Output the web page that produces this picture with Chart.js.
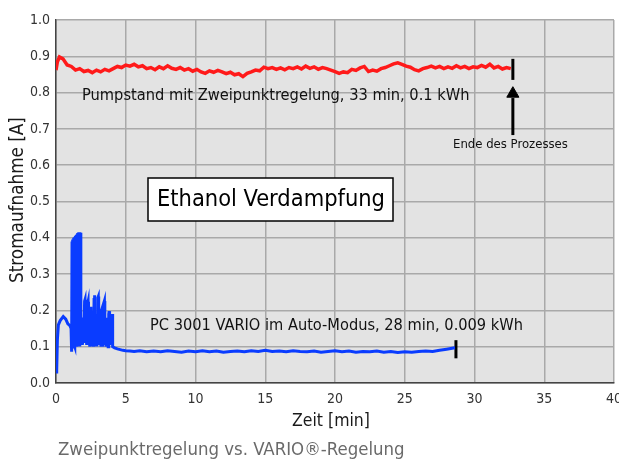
<!DOCTYPE html>
<html>
<head>
<meta charset="utf-8">
<script src="https://cdn.jsdelivr.net/npm/chart.js@4/dist/chart.umd.min.js"></script>
<style>
  html, body { margin: 0; padding: 0; background: #ffffff; }
  #wrap { width: 619px; height: 461px; }
</style>
</head>
<body>
<div id="wrap"><canvas id="myChart" width="619" height="461"></canvas></div>
<script>
// Pumpstand (Zweipunktregelung), Zeit [min] / Strom [A]
const redTime = [0, 0.1, 0.25, 0.5, 0.8, 1.1, 1.4, 1.7, 2.0, 2.3, 2.6, 2.9, 3.2, 3.5, 3.8, 4.1, 4.4, 4.7, 5.0, 5.3,
  5.6, 5.9, 6.2, 6.5, 6.8, 7.1, 7.4, 7.7, 8.0, 8.3, 8.6, 8.9, 9.2, 9.5, 9.8, 10.1, 10.4, 10.7, 11.0, 11.3,
  11.6, 11.9, 12.2, 12.5, 12.8, 13.1, 13.4, 13.7, 14.0, 14.3, 14.6, 14.9, 15.2, 15.5, 15.8, 16.1, 16.4, 16.7, 17.0, 17.3,
  17.6, 17.9, 18.2, 18.5, 18.8, 19.1, 19.4, 19.7, 20.0, 20.3, 20.6, 20.9, 21.2, 21.5, 21.8, 22.1, 22.4, 22.7, 23.0, 23.3,
  23.6, 23.9, 24.2, 24.5, 24.8, 25.1, 25.4, 25.7, 26.0, 26.3, 26.6, 26.9, 27.2, 27.5, 27.8, 28.1, 28.4, 28.7, 29.0, 29.3,
  29.6, 29.9, 30.2, 30.5, 30.8, 31.1, 31.4, 31.7, 32.0, 32.3, 32.6]
const redCurrent = [0.862, 0.885, 0.898, 0.893, 0.876, 0.872, 0.862, 0.866, 0.858, 0.861, 0.855, 0.862, 0.857, 0.864, 0.860, 0.866, 0.872, 0.869, 0.876, 0.873,
  0.878, 0.871, 0.874, 0.866, 0.869, 0.863, 0.871, 0.866, 0.874, 0.867, 0.864, 0.869, 0.862, 0.866, 0.859, 0.864, 0.857, 0.853, 0.860, 0.856,
  0.861, 0.857, 0.852, 0.856, 0.849, 0.852, 0.844, 0.853, 0.857, 0.862, 0.860, 0.870, 0.866, 0.869, 0.864, 0.868, 0.863, 0.869, 0.866, 0.871,
  0.865, 0.873, 0.867, 0.871, 0.864, 0.869, 0.866, 0.862, 0.858, 0.853, 0.857, 0.855, 0.864, 0.861, 0.868, 0.872, 0.858, 0.862, 0.859, 0.866,
  0.869, 0.874, 0.879, 0.882, 0.878, 0.873, 0.870, 0.863, 0.860, 0.866, 0.869, 0.873, 0.868, 0.872, 0.866, 0.871, 0.867, 0.874, 0.868, 0.872,
  0.866, 0.871, 0.869, 0.875, 0.870, 0.878, 0.868, 0.872, 0.865, 0.869, 0.866]

// PC 3001 VARIO im Auto-Modus
const blueTime = [0, 0.05, 0.1, 0.17, 0.3, 0.52, 0.7, 0.85, 1.0, 1.08,
  1.12, 1.15, 1.18, 1.21, 1.24, 1.27, 1.30, 1.33, 1.36, 1.39, 1.42, 1.45, 1.48, 1.51, 1.54, 1.57, 1.60, 1.63, 1.66, 1.69, 1.72, 1.75, 1.78,
  1.80, 1.85, 1.90, 1.95, 2.00, 2.05, 2.08, 2.11, 2.15, 2.20, 2.25, 2.30, 2.33, 2.38, 2.42, 2.46, 2.50, 2.53, 2.57, 2.61,
  2.65, 2.69, 2.73, 2.77, 2.80, 2.84, 2.88, 2.93, 2.97, 3.00, 3.03, 3.06, 3.10, 3.14, 3.18, 3.22, 3.26, 3.30, 3.33, 3.37,
  3.41, 3.44, 3.47, 3.50, 3.54, 3.58, 3.62, 3.66, 3.70, 3.74, 3.78, 3.81, 3.84, 3.88, 3.92, 3.96, 4.00, 4.03, 4.06,
  4.2, 4.4, 4.6, 4.8, 5.0, 5.3, 5.6, 6.0, 6.5, 7.0, 7.5, 8.0, 8.5, 9.0, 9.5, 10.0, 10.5,
  11.0, 11.5, 12.0, 12.5, 13.0, 13.5, 14.0, 14.5, 15.0, 15.5, 16.0, 16.5, 17.0, 17.5, 18.0, 18.5, 19.0, 19.5, 20.0, 20.5,
  21.0, 21.5, 22.0, 22.5, 23.0, 23.5, 24.0, 24.5, 25.0, 25.5, 26.0, 26.5, 27.0, 27.5, 28.0, 28.3, 28.6]
const blueCurrent = [0.030, 0.036, 0.120, 0.160, 0.172, 0.183, 0.176, 0.163, 0.158, 0.150,
  0.086, 0.390, 0.095, 0.395, 0.100, 0.400, 0.105, 0.402, 0.100, 0.405, 0.105, 0.408, 0.100, 0.410, 0.105, 0.413, 0.110, 0.415, 0.105, 0.415, 0.110, 0.414, 0.120,
  0.120, 0.160, 0.105, 0.180, 0.110, 0.225, 0.229, 0.110, 0.170, 0.105, 0.215, 0.224, 0.110, 0.160, 0.100, 0.190, 0.210, 0.110, 0.170, 0.105,
  0.185, 0.100, 0.230, 0.242, 0.110, 0.165, 0.105, 0.190, 0.110, 0.235, 0.238, 0.110, 0.175, 0.105, 0.165, 0.100, 0.200, 0.205, 0.100, 0.150,
  0.105, 0.220, 0.226, 0.105, 0.165, 0.100, 0.180, 0.105, 0.155, 0.100, 0.190, 0.198, 0.105, 0.170, 0.110, 0.180, 0.115, 0.190, 0.100,
  0.097, 0.094, 0.092, 0.090, 0.089, 0.088, 0.087, 0.089, 0.086, 0.088, 0.086, 0.089, 0.087, 0.085, 0.088, 0.086, 0.089,
  0.086, 0.088, 0.085, 0.087, 0.088, 0.086, 0.089, 0.087, 0.090, 0.087, 0.088, 0.086, 0.089, 0.087, 0.086, 0.088, 0.085, 0.087, 0.089, 0.086,
  0.088, 0.085, 0.087, 0.086, 0.088, 0.085, 0.087, 0.084, 0.086, 0.085, 0.087, 0.088, 0.087, 0.090, 0.093, 0.095, 0.097]

// Ende-Markierungen (Zeit, von, bis)
const redEnd = [32.75, 0.835, 0.893]
const blueEnd = [28.67, 0.068, 0.118]
const arrowLine = [32.75, 0.683, 0.785]
const arrowTip = [32.75, 0.797]

const xTicks = [0, 5, 10, 15, 20, 25, 30, 35, 40]
const yTicks = [0.0, 0.1, 0.2, 0.3, 0.4, 0.5, 0.6, 0.7, 0.8, 0.9, 1.0]

const FONT = '"DejaVu Sans Condensed", "Liberation Sans Narrow", "DejaVu Sans", sans-serif'

function pts(xs, ys) {
  return xs.map((x, i) => ({ x: x, y: ys[i] }))
}

// Text with a fixed target width
function fitText(ctx, text, x, y, width, size, align) {
  ctx.font = size + 'px ' + FONT
  const w = ctx.measureText(text).width
  const s = size * width / w
  ctx.font = s.toFixed(2) + 'px ' + FONT
  ctx.textAlign = align || 'left'
  ctx.fillText(text, x, y)
}

const plotBg = {
  id: 'plotBg',
  beforeDraw(chart) {
    const a = chart.chartArea
    const ctx = chart.ctx
    ctx.save()
    ctx.fillStyle = '#e3e3e3'
    ctx.fillRect(a.left, a.top, a.right - a.left, a.bottom - a.top)
    ctx.restore()
  }
}

const labels = {
  id: 'labels',
  afterDatasetsDraw(chart) {
    const ctx = chart.ctx
    ctx.save()
    ctx.textBaseline = 'middle'
    ctx.fillStyle = '#111111'

    fitText(ctx, 'Pumpstand mit Zweipunktregelung, 33 min, 0.1 kWh', 82, 96, 388, 15)
    fitText(ctx, 'PC 3001 VARIO im Auto-Modus, 28 min, 0.009 kWh', 150, 326, 373, 15)
    fitText(ctx, 'Ende des Prozesses', 453, 145, 115, 12)

    // Titelbox
    ctx.fillStyle = '#ffffff'
    ctx.fillRect(148, 178, 245, 43)
    ctx.strokeStyle = '#000000'
    ctx.lineWidth = 1.5
    ctx.strokeRect(148, 178, 245, 43)
    ctx.fillStyle = '#000000'
    fitText(ctx, 'Ethanol Verdampfung', 157, 200, 228, 25)

    // Achsentitel
    ctx.fillStyle = '#1a1a1a'
    fitText(ctx, 'Zeit [min]', 331, 421, 78, 18, 'center')
    ctx.save()
    ctx.translate(18, 200)
    ctx.rotate(-Math.PI / 2)
    fitText(ctx, 'Stromaufnahme [A]', 0, 0, 166, 18, 'center')
    ctx.restore()

    ctx.fillStyle = '#6a6a6a'
    fitText(ctx, 'Zweipunktregelung vs. VARIO\u00ae-Regelung', 58, 450, 347, 18)
    ctx.restore()
  }
}

const ctx = document.getElementById('myChart')

const myChart = new Chart(ctx, {
  type: 'line',
  data: {
    datasets: [
      {
        data: pts(redTime, redCurrent),
        borderColor: '#ff1a1a',
        borderWidth: 3.5,
        pointRadius: 0,
        tension: 0
      },
      {
        data: pts(blueTime, blueCurrent),
        borderColor: '#0a3cff',
        borderWidth: 3,
        pointRadius: 0,
        tension: 0
      },
      {
        data: [{ x: redEnd[0], y: redEnd[1] }, { x: redEnd[0], y: redEnd[2] }],
        borderColor: '#000000',
        borderWidth: 3,
        pointRadius: 0
      },
      {
        data: [{ x: blueEnd[0], y: blueEnd[1] }, { x: blueEnd[0], y: blueEnd[2] }],
        borderColor: '#000000',
        borderWidth: 3,
        pointRadius: 0
      },
      {
        data: [{ x: arrowLine[0], y: arrowLine[1] }, { x: arrowLine[0], y: arrowLine[2] }],
        borderColor: '#000000',
        borderWidth: 3,
        pointRadius: 0
      },
      {
        type: 'scatter',
        data: [{ x: arrowTip[0], y: arrowTip[1] }],
        pointStyle: 'triangle',
        pointRadius: 7,
        backgroundColor: '#000000',
        borderColor: '#000000',
        borderWidth: 1
      }
    ]
  },
  options: {
    responsive: false,
    animation: false,
    layout: { autoPadding: false, padding: { top: 20, right: 5, left: 0, bottom: 0 } },
    plugins: {
      legend: { display: false },
      tooltip: { enabled: false }
    },
    scales: {
      x: {
        type: 'linear',
        min: 0,
        max: 40,
        afterBuildTicks(scale) {
          scale.ticks = xTicks.map(v => ({ value: v }))
        },
        afterFit(scale) {
          scale.height = 78
          scale.paddingLeft = 0
          scale.paddingRight = 0
        },
        grid: { color: '#a9a9a9', lineWidth: 1.5, drawTicks: false },
        border: { color: '#444444', width: 1.5 },
        ticks: {
          padding: 8,
          color: '#333333',
          font: { family: FONT, size: 14 },
          maxRotation: 0
        }
      },
      y: {
        min: 0,
        max: 1,
        afterBuildTicks(scale) {
          scale.ticks = yTicks.map(v => ({ value: v }))
        },
        afterFit(scale) {
          scale.width = 56
          scale.paddingTop = 0
          scale.paddingBottom = 0
        },
        grid: { color: '#a9a9a9', lineWidth: 1.5, drawTicks: false },
        border: { color: '#444444', width: 1.5 },
        ticks: {
          padding: 6,
          color: '#333333',
          font: { family: FONT, size: 14 },
          callback: v => v.toFixed(1)
        }
      }
    }
  },
  plugins: [plotBg, labels]
})
</script>
</body>
</html>
